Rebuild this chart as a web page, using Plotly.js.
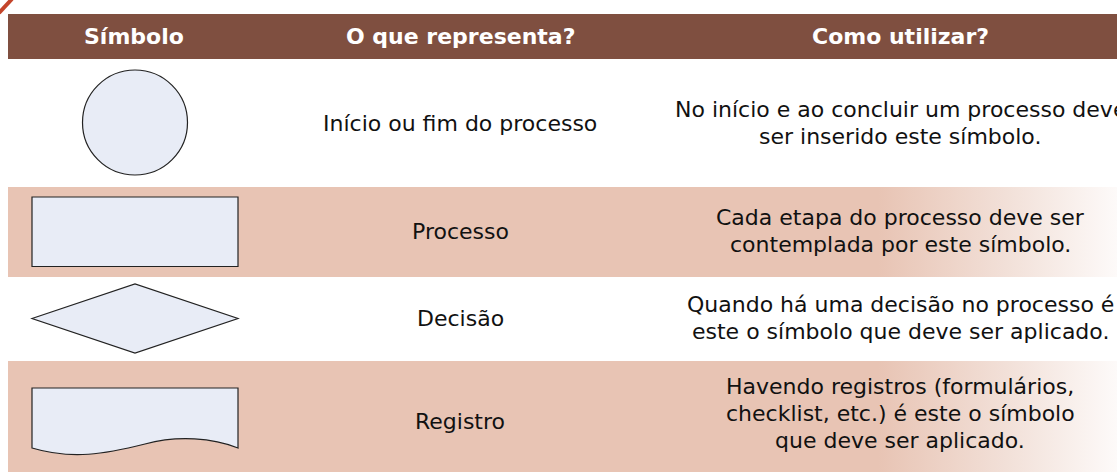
<!DOCTYPE html>
<html>
<head>
<meta charset="utf-8">
<script src="https://cdn.plot.ly/plotly-3.0.1.min.js"></script>
<style>
  html, body { margin: 0; padding: 0; background: #ffffff; overflow: hidden; }
  #chart { width: 1117px; height: 472px; }
</style>
</head>
<body>
<div id="chart"></div>
<script>
// ---- data ----
const headers = ['Símbolo', 'O que representa?', 'Como utilizar?'];
const symbols = ['terminal', 'process', 'decision', 'document'];
const represents = ['Início ou fim do processo', 'Processo', 'Decisão', 'Registro'];
const usage = [
  ['No início e ao concluir um processo deve', 'ser inserido este símbolo.'],
  ['Cada etapa do processo deve ser', 'contemplada por este símbolo.'],
  ['Quando há uma decisão no processo é', 'este o símbolo que deve ser aplicado.'],
  ['Havendo registros (formulários,', 'checklist, etc.) é este o símbolo', 'que deve ser aplicado.']
];
const shaded = [false, true, false, true];

// ---- layout geometry (pixels of the page) ----
const W = 1117, H = 472;
const tableLeft = 8;
const headerTop = 14, headerBottom = 59;
const rowBounds = [[59, 187], [187, 277], [277, 361], [361, 472]];
const colCenters = [134, 460, 900];
const symLeft = 32, symRight = 238;
const lineGap = 26.7;
const col2Offset = [0, -1, -1, 5];
const col3Offset = [0, -1, -1, -3];

const headerColor = '#7f4f40';
const bandColor = '#e8c4b4';
const shapeFill = '#e8ecf6';
const shapeLine = '#222222';
const textColor = '#111111';
const FONT = '"DejaVu Sans", "Noto Sans", sans-serif';
const textSize = 22;
const headerSize = 22;

const traces = [];
const shapes = [];
const annotations = [];

// header band
shapes.push({type: 'rect', xref: 'x', yref: 'y', layer: 'below',
  x0: tableLeft, x1: W, y0: headerTop, y1: headerBottom,
  fillcolor: headerColor, line: {width: 0}});

// corner mark
shapes.push({type: 'line', xref: 'x', yref: 'y', x0: -1, y0: 13, x1: 12, y1: -1,
  line: {color: '#c4452b', width: 4}});

headers.forEach((h, i) => {
  annotations.push({xref: 'x', yref: 'y', x: colCenters[i], y: (headerTop + headerBottom) / 2,
    text: '<b>' + h + '</b>', showarrow: false, xanchor: 'center', yanchor: 'middle',
    font: {family: FONT, size: headerSize, color: '#ffffff'}});
});

// shaded rows (gradient fading to white at the right)
rowBounds.forEach((rb, i) => {
  if (!shaded[i]) return;
  traces.push({type: 'scatter', mode: 'none', hoverinfo: 'skip', showlegend: false,
    x: [tableLeft, W, W, tableLeft, tableLeft], y: [rb[0], rb[0], rb[1], rb[1], rb[0]],
    fill: 'toself',
    fillgradient: {type: 'horizontal', start: tableLeft, stop: W,
      colorscale: [[0, bandColor], [0.785, bandColor], [0.9, '#f2e0d8'], [1, '#fdfaf9']]}
  });
});

// symbols and texts
symbols.forEach((s, i) => {
  const [top, bot] = rowBounds[i];
  const cx = (symLeft + symRight) / 2;
  const cy = (top + bot) / 2;
  const line = {color: shapeLine, width: 1.2};
  if (s === 'terminal') {
    const r = 52.5;
    shapes.push({type: 'circle', xref: 'x', yref: 'y', x0: cx - r, x1: cx + r,
      y0: cy - r - 0.5, y1: cy + r - 0.5, fillcolor: shapeFill, line});
  } else if (s === 'process') {
    shapes.push({type: 'rect', xref: 'x', yref: 'y', x0: symLeft, x1: symRight,
      y0: top + 10, y1: bot - 10.5, fillcolor: shapeFill, line});
  } else if (s === 'decision') {
    const t = top + 7, b = bot - 8, m = (t + b) / 2;
    shapes.push({type: 'path', xref: 'x', yref: 'y',
      path: `M ${symLeft} ${m} L ${cx} ${t} L ${symRight} ${m} L ${cx} ${b} Z`,
      fillcolor: shapeFill, line});
  } else if (s === 'document') {
    const t = top + 27, e = top + 87;
    shapes.push({type: 'path', xref: 'x', yref: 'y',
      path: `M ${symLeft} ${t} L ${symRight} ${t} L ${symRight} ${e} ` +
            `C ${symRight - 25} ${e - 10} ${symRight - 60} ${e - 13} ${cx + 10} ${e - 4} ` +
            `C ${cx - 30} ${e + 6} ${symLeft + 40} ${e + 12} ${symLeft} ${e} Z`,
      fillcolor: shapeFill, line});
  }
  annotations.push({xref: 'x', yref: 'y', x: colCenters[1], y: cy + col2Offset[i],
    text: represents[i], showarrow: false, xanchor: 'center', yanchor: 'middle',
    font: {family: FONT, size: textSize, color: textColor}});
  const lines = usage[i];
  const c3 = cy + col3Offset[i];
  lines.forEach((ln, k) => {
    annotations.push({xref: 'x', yref: 'y', x: colCenters[2],
      y: c3 + (k - (lines.length - 1) / 2) * lineGap,
      text: ln, showarrow: false, xanchor: 'center', yanchor: 'middle',
      font: {family: FONT, size: textSize, color: textColor}});
  });
});

const layout = {
  width: W, height: H,
  margin: {l: 0, r: 0, t: 0, b: 0, pad: 0},
  paper_bgcolor: '#ffffff', plot_bgcolor: '#ffffff',
  showlegend: false,
  xaxis: {range: [0, W], visible: false, fixedrange: true},
  yaxis: {range: [H, 0], visible: false, fixedrange: true},
  shapes, annotations
};

Plotly.newPlot('chart', traces, layout, {staticPlot: true, displayModeBar: false});
</script>
</body>
</html>
